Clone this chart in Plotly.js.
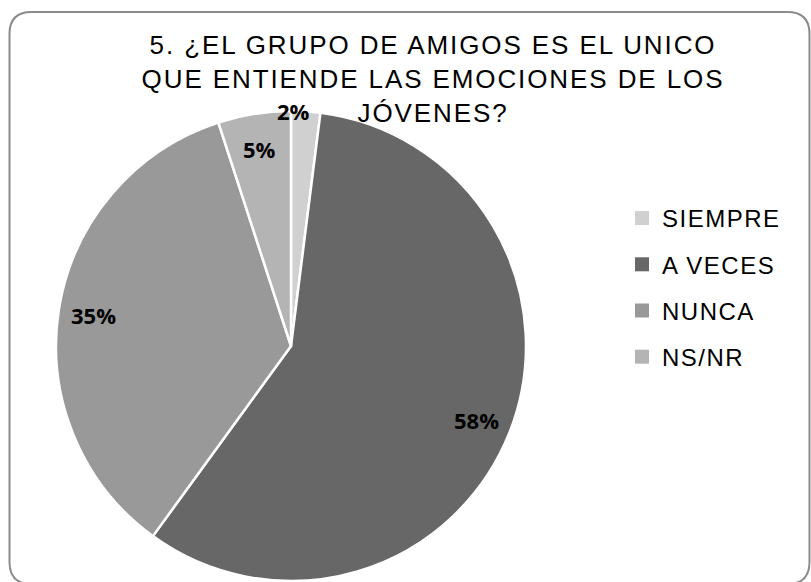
<!DOCTYPE html>
<html>
<head>
<meta charset="utf-8">
<script src="https://cdn.plot.ly/plotly-3.0.1.min.js"></script>
<style>
  html, body { margin: 0; padding: 0; background: #fff; }
  #chart { width: 811px; height: 582px; }
  .gtitle { letter-spacing: 1.9px; }
  .legendtext { letter-spacing: 1.5px; }
</style>
</head>
<body>
<div id="chart"></div>
<script>
// ---- data ----
const categories = ['SIEMPRE', 'A VECES', 'NUNCA', 'NS/NR'];
const percentValues = [2, 58, 35, 5];
const sliceColors = ['#d0d0d0', '#676767', '#999999', '#b4b4b4'];
const chartTitle = '5. ¿EL GRUPO DE AMIGOS ES EL UNICO<br>QUE ENTIENDE LAS EMOCIONES DE LOS<br>JÓVENES?';

// ---- geometry (pixels) ----
const W = 811, H = 582;
const CX = 291, CY = 346, R = 235;

const pie = {
  type: 'pie',
  labels: categories,
  values: percentValues,
  sort: false,
  direction: 'clockwise',
  rotation: 0,
  marker: { colors: sliceColors, line: { color: '#ffffff', width: 2.5 } },
  textinfo: 'none',
  hoverinfo: 'label+percent',
  showlegend: false,
  domain: { x: [(CX - R) / W, (CX + R) / W], y: [(H - CY - R) / H, (H - CY + R) / H] }
};

// legend entries (one per category, built from the same arrays)
const legendTraces = categories.map((c, i) => ({
  type: 'scatter', mode: 'markers', x: [null], y: [null],
  name: c, legendgroup: 'g' + i,
  marker: { symbol: 'square', size: 14, color: sliceColors[i] },
  hoverinfo: 'skip', showlegend: true
}));

// percent labels positioned from the slice angles
const total = percentValues.reduce((a, b) => a + b, 0);
let cum = 0;
const labelAnnotations = percentValues.map((v) => {
  const frac = v / total;
  const start = cum;
  cum += frac;
  const small = frac < 0.03;
  const k = small ? 1.0 : 0.85;
  const a = (small ? start + frac * 0.1 : start + frac / 2) * 2 * Math.PI;
  const px = CX + k * R * Math.sin(a);
  const py = CY - k * R * Math.cos(a);
  return {
    xref: 'paper', yref: 'paper', x: px / W, y: 1 - py / H,
    xanchor: 'center', yanchor: 'middle', showarrow: false,
    text: Math.round(frac * 100) + '%',
    font: { family: 'Open Sans', size: 22, weight: 'bold', color: '#000000' }
  };
});

// rounded outer frame
const fl = 9.5, fr = 809.5, ft = 12, fb = 584, rr = 22;
const px = (x) => (x / W).toFixed(5), py = (y) => (1 - y / H).toFixed(5);
const framePath =
  'M ' + px(fl) + ',' + py(ft + rr) +
  ' Q ' + px(fl) + ',' + py(ft) + ' ' + px(fl + rr) + ',' + py(ft) +
  ' L ' + px(fr - rr) + ',' + py(ft) +
  ' Q ' + px(fr) + ',' + py(ft) + ' ' + px(fr) + ',' + py(ft + rr) +
  ' L ' + px(fr) + ',' + py(fb - rr) +
  ' Q ' + px(fr) + ',' + py(fb) + ' ' + px(fr - rr) + ',' + py(fb) +
  ' L ' + px(fl + rr) + ',' + py(fb) +
  ' Q ' + px(fl) + ',' + py(fb) + ' ' + px(fl) + ',' + py(fb - rr) + ' Z';

const layout = {
  width: W, height: H,
  margin: { l: 0, r: 0, t: 0, b: 0 },
  paper_bgcolor: '#ffffff', plot_bgcolor: '#ffffff',
  xaxis: { visible: false }, yaxis: { visible: false },
  title: {
    text: chartTitle,
    font: { family: 'Liberation Sans', size: 26, color: '#000000' },
    x: 433 / W, xanchor: 'center', xref: 'paper',
    y: 1 - 54 / H, yanchor: 'top', yref: 'container'
  },
  showlegend: true,
  legend: {
    x: 622 / W, xanchor: 'left', y: 1 - 196 / H, yanchor: 'top',
    font: { family: 'Liberation Sans', size: 24, color: '#000000' },
    tracegroupgap: 12, bgcolor: 'rgba(0,0,0,0)'
  },
  shapes: [{
    type: 'path', xref: 'paper', yref: 'paper', path: framePath,
    line: { color: '#8a8a8a', width: 2 }, fillcolor: 'rgba(0,0,0,0)', layer: 'below'
  }],
  annotations: labelAnnotations
};

Plotly.newPlot('chart', [pie].concat(legendTraces), layout, { displayModeBar: false, staticPlot: true });
</script>
</body>
</html>
